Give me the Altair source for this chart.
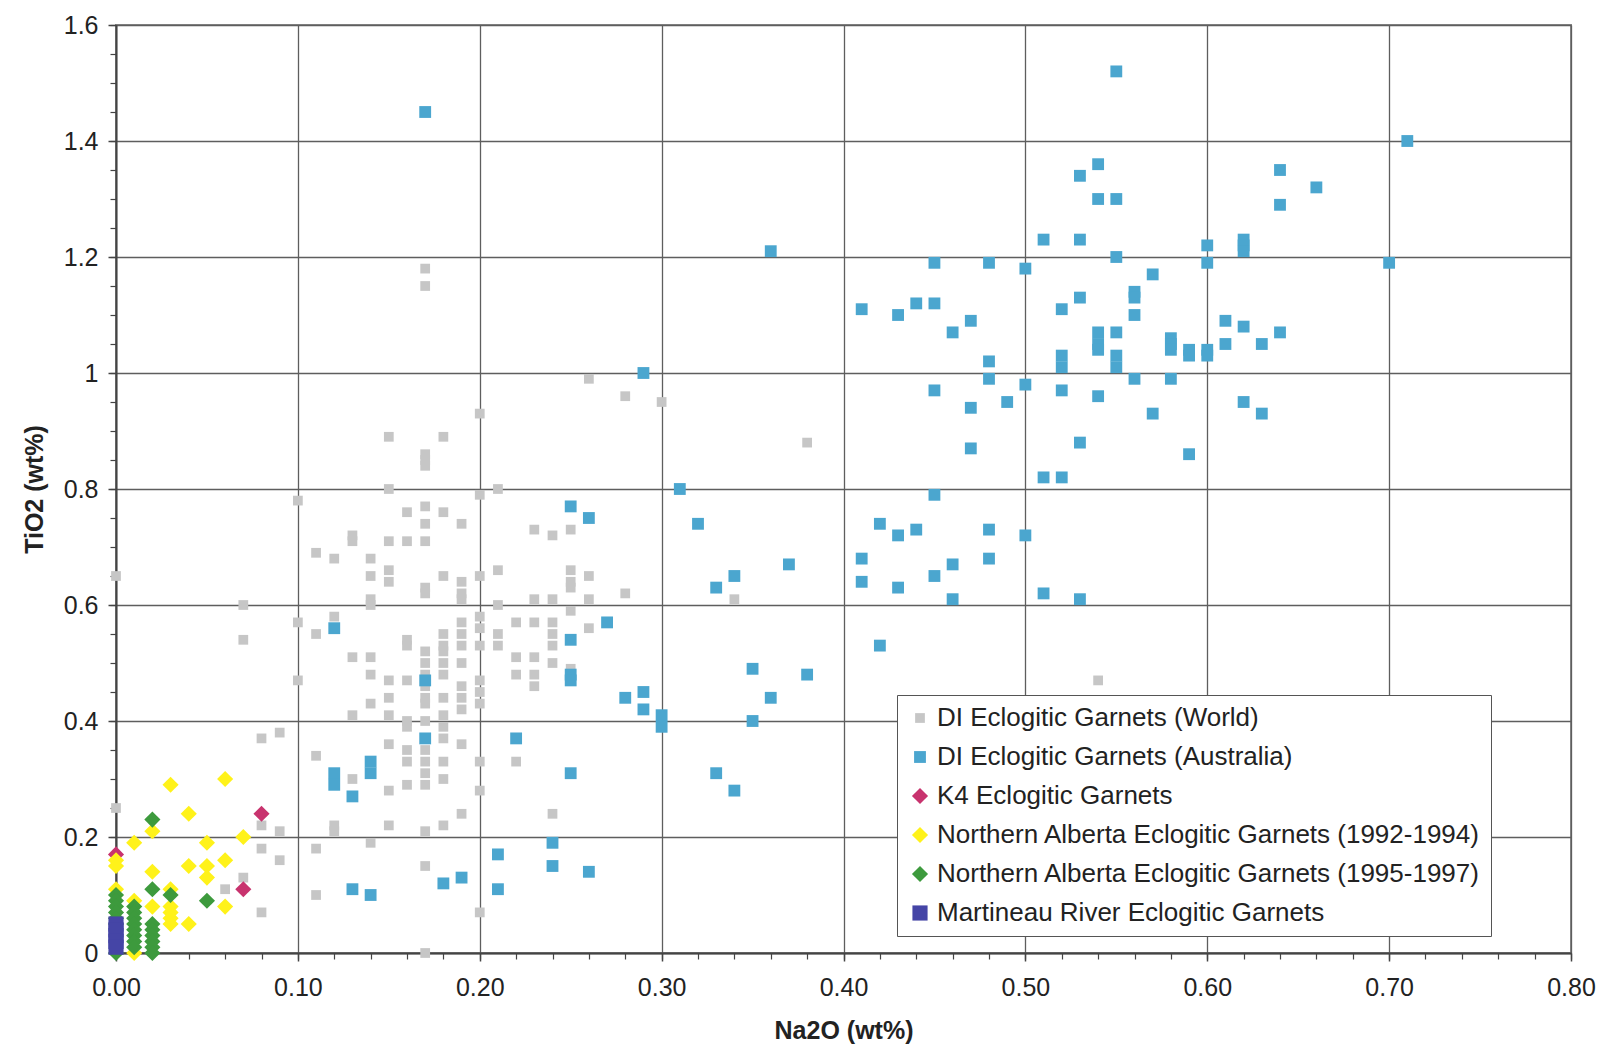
import altair as alt
import pandas as pd

series_names = [
    "DI Eclogitic Garnets (World)",
    "DI Eclogitic Garnets (Australia)",
    "K4 Eclogitic Garnets",
    "Northern Alberta Eclogitic Garnets (1992-1994)",
    "Northern Alberta Eclogitic Garnets (1995-1997)",
    "Martineau River Eclogitic Garnets",
]
series_colors = ["#c6c6c6", "#4ba6cf", "#c8336e", "#fff21a", "#3d9a3d", "#4545a6"]
series_shapes = ["square", "square", "diamond", "diamond", "diamond", "square"]
series_sizes = [95, 140, 260, 260, 260, 230]

# Na2O value -> list of TiO2 values
world = {
    0.00: [0.65, 0.25],
    0.06: [0.11],
    0.07: [0.60, 0.54, 0.13],
    0.08: [0.37, 0.22, 0.18, 0.07],
    0.09: [0.38, 0.21, 0.16],
    0.10: [0.78, 0.57, 0.47],
    0.11: [0.69, 0.55, 0.34, 0.18, 0.10],
    0.12: [0.68, 0.58, 0.22, 0.21],
    0.13: [0.72, 0.71, 0.51, 0.41, 0.30],
    0.14: [0.68, 0.65, 0.61, 0.60, 0.51, 0.48, 0.43, 0.19],
    0.15: [0.89, 0.80, 0.71, 0.66, 0.64, 0.47, 0.44, 0.41, 0.36, 0.28, 0.22],
    0.16: [0.76, 0.71, 0.54, 0.53, 0.47, 0.40, 0.39, 0.35, 0.33, 0.29],
    0.17: [1.18, 1.15, 0.86, 0.85, 0.84, 0.77, 0.74, 0.71, 0.63, 0.62, 0.52, 0.50,
           0.48, 0.46, 0.44, 0.43, 0.40, 0.35, 0.33, 0.31, 0.29, 0.21, 0.15, 0.00],
    0.18: [0.89, 0.76, 0.65, 0.55, 0.53, 0.52, 0.50, 0.48, 0.44, 0.41, 0.39, 0.37,
           0.33, 0.30, 0.22],
    0.19: [0.74, 0.64, 0.62, 0.61, 0.57, 0.55, 0.53, 0.50, 0.46, 0.44, 0.42, 0.36, 0.24],
    0.20: [0.93, 0.79, 0.65, 0.58, 0.56, 0.53, 0.47, 0.45, 0.43, 0.33, 0.28, 0.07],
    0.21: [0.80, 0.66, 0.60, 0.55, 0.53],
    0.22: [0.57, 0.51, 0.48, 0.33],
    0.23: [0.73, 0.61, 0.57, 0.51, 0.48, 0.46],
    0.24: [0.72, 0.61, 0.57, 0.55, 0.53, 0.50, 0.24],
    0.25: [0.73, 0.66, 0.64, 0.63, 0.59, 0.49],
    0.26: [0.99, 0.65, 0.61, 0.56],
    0.28: [0.96, 0.62],
    0.30: [0.95],
    0.34: [0.61],
    0.38: [0.88],
    0.54: [0.47],
}

australia = {
    0.12: [0.56, 0.31, 0.29],
    0.13: [0.27, 0.11],
    0.14: [0.33, 0.31, 0.10],
    0.17: [1.45, 0.47, 0.37],
    0.18: [0.12],
    0.19: [0.13],
    0.21: [0.17, 0.11],
    0.22: [0.37],
    0.24: [0.19, 0.15],
    0.25: [0.77, 0.54, 0.48, 0.47, 0.31],
    0.26: [0.75, 0.14],
    0.27: [0.57],
    0.28: [0.44],
    0.29: [1.00, 0.45, 0.42],
    0.30: [0.41, 0.39],
    0.31: [0.80],
    0.32: [0.74],
    0.33: [0.63, 0.31],
    0.34: [0.65, 0.28],
    0.35: [0.49, 0.40],
    0.36: [1.21, 0.44],
    0.37: [0.67],
    0.38: [0.48],
    0.41: [1.11, 0.68, 0.64],
    0.42: [0.74, 0.53],
    0.43: [1.10, 0.72, 0.63],
    0.44: [1.12, 0.73],
    0.45: [1.19, 1.12, 0.97, 0.79, 0.65],
    0.46: [1.07, 0.67, 0.61],
    0.47: [1.09, 0.94, 0.87],
    0.48: [1.19, 1.02, 0.99, 0.73, 0.68],
    0.49: [0.95],
    0.50: [1.18, 0.98, 0.72],
    0.51: [1.23, 0.82, 0.62],
    0.52: [1.11, 1.03, 1.01, 0.97, 0.82],
    0.53: [1.34, 1.23, 1.13, 0.88, 0.61],
    0.54: [1.36, 1.30, 1.07, 1.05, 1.04, 0.96],
    0.55: [1.52, 1.30, 1.20, 1.07, 1.03, 1.01],
    0.56: [1.14, 1.13, 1.10, 0.99],
    0.57: [1.17, 0.93],
    0.58: [1.06, 1.05, 1.04, 0.99],
    0.59: [1.04, 1.03, 0.86],
    0.60: [1.22, 1.19, 1.04, 1.03],
    0.61: [1.09, 1.05],
    0.62: [1.23, 1.22, 1.21, 1.08, 0.95],
    0.63: [1.05, 0.93],
    0.64: [1.35, 1.29, 1.07],
    0.66: [1.32],
    0.70: [1.19],
    0.71: [1.40],
}

k4 = {
    0.00: [0.17],
    0.07: [0.11],
    0.08: [0.24],
}

alberta_1992_1994 = {
    0.00: [0.16, 0.15, 0.11],
    0.01: [0.19, 0.09, 0.00],
    0.02: [0.21, 0.14, 0.08],
    0.03: [0.29, 0.11, 0.08, 0.07, 0.06, 0.05],
    0.04: [0.24, 0.15, 0.05],
    0.05: [0.19, 0.15, 0.13],
    0.06: [0.30, 0.16, 0.08],
    0.07: [0.20],
}

alberta_1995_1997 = {
    0.00: [0.10, 0.09, 0.08, 0.07, 0.06, 0.05, 0.00],
    0.01: [0.08, 0.07, 0.06, 0.05, 0.04, 0.03, 0.02, 0.01],
    0.02: [0.23, 0.11, 0.05, 0.04, 0.03, 0.02, 0.01, 0.00],
    0.03: [0.10],
    0.05: [0.09],
}

martineau = {
    0.00: [0.05, 0.04, 0.03, 0.02, 0.01],
}

x_major = [0.0, 0.1, 0.2, 0.3, 0.4, 0.5, 0.6, 0.7, 0.8]
x_minor = [round(i * 0.02, 2) for i in range(41)]
y_major = [0.0, 0.2, 0.4, 0.6, 0.8, 1.0, 1.2, 1.4, 1.6]
y_minor = [round(i * 0.05, 2) for i in range(33)]

rows = []
for name, groups in zip(series_names, [world, australia, k4, alberta_1992_1994,
                                       alberta_1995_1997, martineau]):
    for xv, ys in groups.items():
        for yv in ys:
            rows.append({"series": name, "Na2O": xv, "TiO2": yv})
df = pd.DataFrame(rows)
df["order"] = range(len(df))

FONT = "Liberation Sans"
xscale = alt.Scale(domain=[0, 0.8], nice=False, zero=False)
yscale = alt.Scale(domain=[0, 1.6], nice=False, zero=False)

common_axis = dict(
    domainColor="#444444", domainWidth=2, tickColor="#444444", tickWidth=1.5,
    labelFont=FONT, labelFontSize=25, labelColor="#222222", labelFlush=False,
    titleFont=FONT, titleFontSize=25, titleFontWeight="bold", titleColor="#222222",
    gridColor="#5e5e5e", gridWidth=1.3,
)

base = alt.Chart(df)

minor = base.mark_point(opacity=0).encode(
    x=alt.X("Na2O:Q", scale=xscale,
            axis=alt.Axis(values=x_minor, labels=False, grid=False, domain=False,
                          tickSize=6, tickColor="#444444", tickWidth=1.2,
                          title=None, orient="bottom")),
    y=alt.Y("TiO2:Q", scale=yscale,
            axis=alt.Axis(values=y_minor, labels=False, grid=False, domain=False,
                          tickSize=6, tickColor="#444444", tickWidth=1.2,
                          title=None, orient="left")),
)

legend = alt.Legend(
    title=None, orient="none", legendX=781, legendY=670,
    fillColor="white", strokeColor="#555555", padding=10,
    labelFont=FONT, labelFontSize=26, labelColor="#222222", labelLimit=800,
    rowPadding=13, symbolOpacity=1, symbolStrokeWidth=0,
)

points = base.mark_point(filled=True, opacity=1, strokeWidth=0).encode(
    x=alt.X("Na2O:Q", scale=xscale,
            axis=alt.Axis(values=x_major, format=".2f", title="Na2O (wt%)",
                          orient="bottom", tickSize=8, labelPadding=14,
                          titlePadding=18, **common_axis)),
    y=alt.Y("TiO2:Q", scale=yscale,
            axis=alt.Axis(values=y_major, format=".1~f", title="TiO2 (wt%)",
                          orient="left", tickSize=8, labelPadding=10,
                          titlePadding=16, **common_axis)),
    color=alt.Color("series:N", scale=alt.Scale(domain=series_names, range=series_colors),
                    legend=legend),
    shape=alt.Shape("series:N", scale=alt.Scale(domain=series_names, range=series_shapes),
                    legend=legend),
    size=alt.Size("series:N", scale=alt.Scale(type="ordinal", domain=series_names,
                                              range=series_sizes),
                  legend=legend),
    order=alt.Order("order:Q"),
)

chart = alt.layer(points, minor).resolve_axis(x="independent", y="independent").properties(
    width=1455,
    height=928,
    padding={"left": 108, "top": 17, "right": 25, "bottom": 94},
    autosize=alt.AutoSizeParams(type="none"),
    background="white",
).configure_view(stroke="#888888", strokeWidth=2)

chart.save("out.html", embed_options={"renderer": "svg", "actions": False})
